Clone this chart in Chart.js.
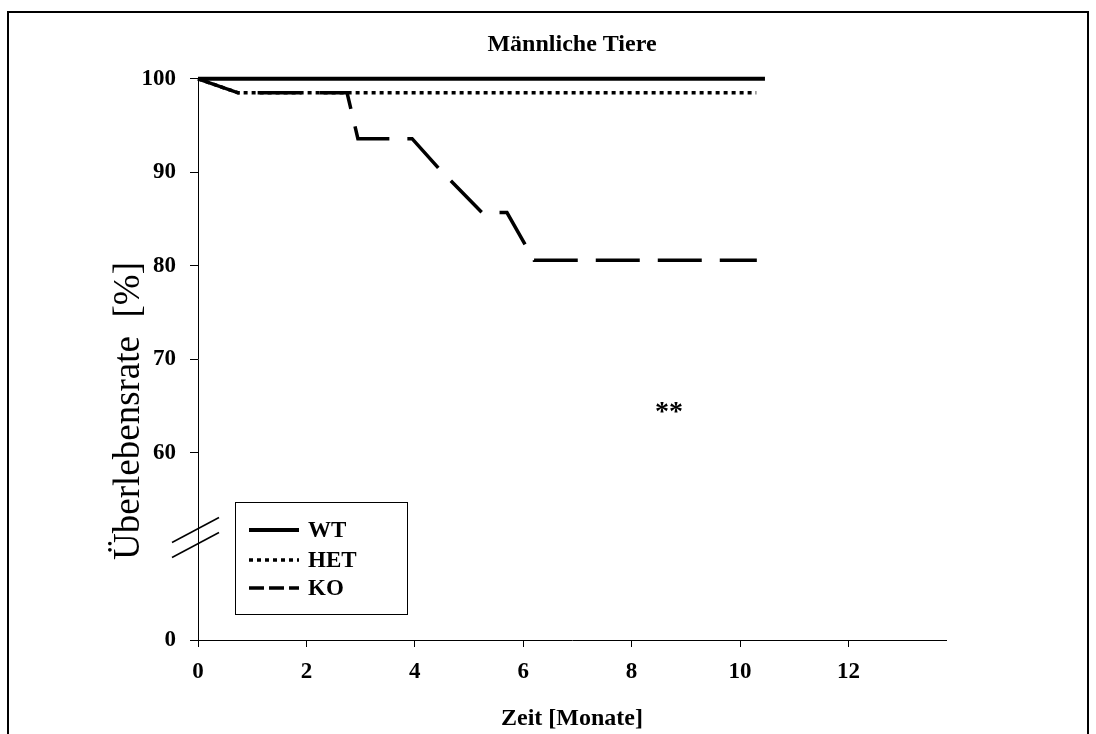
<!DOCTYPE html>
<html>
<head>
<meta charset="utf-8">
<title>Männliche Tiere</title>
<script src="https://cdn.jsdelivr.net/npm/chart.js@4.4.1/dist/chart.umd.min.js"></script>
<style>
  body { margin: 0; background: #fff; }
  #wrap { width: 1096px; height: 734px; }
</style>
</head>
<body>
<div id="wrap"><canvas id="survivalChart" width="1096" height="734"></canvas></div>
<script>
// ===== DATEN =====
const wtMonths = [0, 10.46];
const wtSurvival = [100, 100];

const hetMonths = [0, 0.74, 10.3];
const hetSurvival = [100, 98.5, 98.5];

const koMonths = [0, 0.74, 2.75, 2.95, 3.95, 4.46, 5.24, 5.70, 6.20, 10.31];
const koSurvival = [100, 98.5, 98.5, 93.6, 93.6, 90.3, 85.7, 85.7, 80.6, 80.6];

const xTicks = [0, 2, 4, 6, 8, 10, 12];
const yTickValues = [40, 60, 70, 80, 90, 100];
const yTickLabels = ['0', '60', '70', '80', '90', '100'];

const SERIF = '"Liberation Serif", "DejaVu Serif", serif';

function toPoints(xs, ys) {
    return xs.map((x, i) => ({ x: x, y: ys[i] }));
}

// Rahmen, Achsenbruch, Legende, Signifikanz und y-Titel
const extrasPlugin = {
    id: 'extras',
    afterDraw(chart) {
        const ctx = chart.ctx;
        const xs = chart.scales.x;
        const ys = chart.scales.y;
        ctx.save();

        // Rahmen
        ctx.strokeStyle = '#000';
        ctx.lineWidth = 2;
        ctx.strokeRect(8, 12, 1080, 800);

        // Achsenbruch
        const bx = xs.getPixelForValue(0);
        const by = ys.getPixelForValue(50);
        ctx.lineWidth = 1.5;
        [-17, -2].forEach(off => {
            ctx.beginPath();
            ctx.moveTo(bx - 26, by + off + 13);
            ctx.lineTo(bx + 21, by + off - 12);
            ctx.stroke();
        });

        // Legende
        const lx = 235, ly = 502, lw = 172, lh = 112;
        ctx.lineWidth = 1;
        ctx.strokeRect(lx + 0.5, ly + 0.5, lw, lh);
        const rows = [530, 560, 588];
        chart.data.datasets.forEach((ds, i) => {
            ctx.beginPath();
            ctx.lineWidth = ds.borderWidth;
            ctx.setLineDash(ds.legendDash);
            ctx.moveTo(lx + 14, rows[i]);
            ctx.lineTo(lx + 64, rows[i]);
            ctx.stroke();
            ctx.setLineDash([]);
            ctx.fillStyle = '#000';
            ctx.font = 'bold 23px ' + SERIF;
            ctx.textAlign = 'left';
            ctx.textBaseline = 'middle';
            ctx.fillText(ds.label, lx + 73, rows[i] + 1);
        });

        // Signifikanz
        ctx.font = 'bold 28px ' + SERIF;
        ctx.textAlign = 'center';
        ctx.textBaseline = 'middle';
        ctx.fillText('**', xs.getPixelForValue(8.69), ys.getPixelForValue(64.3));

        // y-Achsentitel
        ctx.translate(129, 411);
        ctx.rotate(-Math.PI / 2);
        ctx.font = '37px ' + SERIF;
        ctx.fillText('Überlebensrate  [%]', 0, 0);

        ctx.restore();
    }
};

document.addEventListener('DOMContentLoaded', function() {
    const ctx = document.getElementById('survivalChart');
    new Chart(ctx, {
        type: 'line',
        data: {
            datasets: [{
                label: 'WT',
                data: toPoints(wtMonths, wtSurvival),
                borderColor: '#000',
                borderWidth: 4,
                legendDash: [],
                pointRadius: 0,
                tension: 0,
                clip: false
            }, {
                label: 'HET',
                data: toPoints(hetMonths, hetSurvival),
                borderColor: '#000',
                borderWidth: 3.5,
                borderDash: [4, 4],
                legendDash: [4, 4],
                pointRadius: 0,
                tension: 0,
                clip: false
            }, {
                label: 'KO',
                data: toPoints(koMonths, koSurvival),
                borderColor: '#000',
                borderWidth: 3.5,
                borderDash: [44, 18],
                legendDash: [15, 5],
                pointRadius: 0,
                tension: 0,
                clip: false
            }]
        },
        options: {
            responsive: false,
            animation: false,
            devicePixelRatio: 1,
            layout: { padding: { top: 0, right: 150, left: 0, bottom: 0 } },
            plugins: {
                legend: { display: false },
                tooltip: { enabled: false },
                title: {
                    display: true,
                    fullSize: false,
                    text: 'Männliche Tiere',
                    color: '#000',
                    font: { family: SERIF, size: 24, weight: 'bold' },
                    padding: { top: 30, bottom: 20 }
                }
            },
            scales: {
                x: {
                    type: 'linear',
                    min: 0,
                    max: 13.8,
                    afterBuildTicks: s => { s.ticks = xTicks.map(v => ({ value: v })); },
                    afterFit: s => { s.height = 94; },
                    grid: { display: true, drawOnChartArea: false, drawTicks: true, tickLength: 7, color: '#000' },
                    border: { display: true, color: '#000', width: 1 },
                    ticks: {
                        color: '#000',
                        padding: 11,
                        maxRotation: 0,
                        autoSkip: false,
                        font: { family: SERIF, size: 23, weight: 'bold' }
                    },
                    title: {
                        display: true,
                        text: 'Zeit [Monate]',
                        color: '#000',
                        font: { family: SERIF, size: 24, weight: 'bold' },
                        padding: { top: 0, bottom: 1 }
                    }
                },
                y: {
                    min: 40,
                    max: 100,
                    afterBuildTicks: s => { s.ticks = yTickValues.map(v => ({ value: v })); },
                    afterFit: s => { s.width = 198; },
                    grid: { display: true, drawOnChartArea: false, drawTicks: true, tickLength: 8, color: '#000' },
                    border: { display: true, color: '#000', width: 1 },
                    ticks: {
                        color: '#000',
                        padding: 14,
                        autoSkip: false,
                        font: { family: SERIF, size: 23, weight: 'bold' },
                        callback: v => yTickLabels[yTickValues.indexOf(v)]
                    }
                }
            }
        },
        plugins: [extrasPlugin]
    });
});
</script>
</body>
</html>
